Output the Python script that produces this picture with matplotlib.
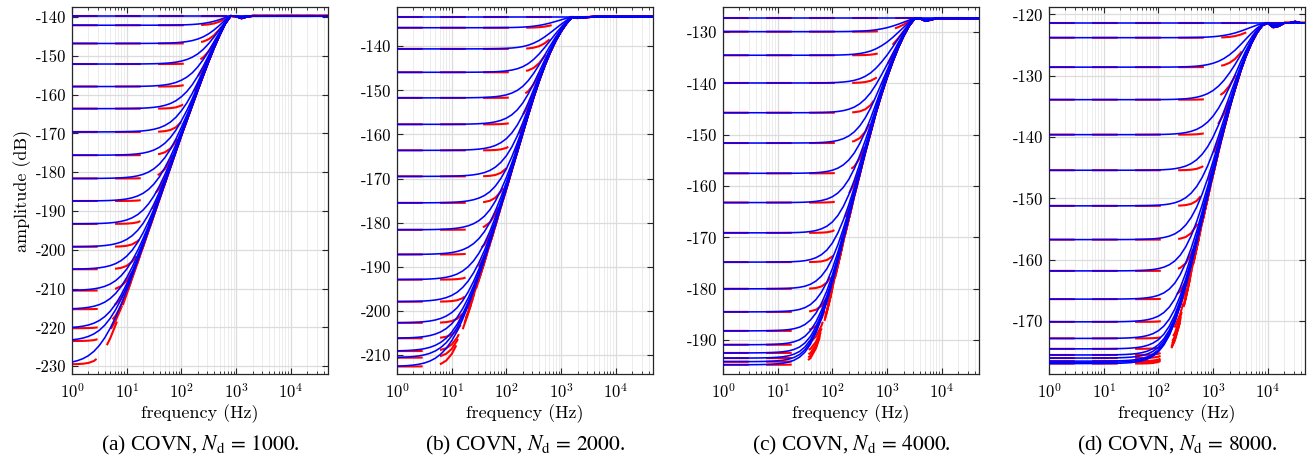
# amplitude spectra for the four COVN cases
import matplotlib
matplotlib.use('Agg')
import matplotlib.pyplot as plt
from matplotlib.ticker import LogLocator, NullFormatter, LogFormatterMathtext
import numpy as np

plt.rcParams['font.family'] = 'cmr10'
plt.rcParams['mathtext.fontset'] = 'cm'
plt.rcParams['axes.unicode_minus'] = False
plt.rcParams['axes.formatter.use_mathtext'] = True
plt.rcParams['lines.scale_dashes'] = False

# log10 of the frequencies (Hz) where the curves were read
logf = [0.0, 0.1, 0.2, 0.3, 0.4, 0.5, 0.6, 0.7, 0.8, 0.9,
        1.0, 1.1, 1.2, 1.3, 1.4, 1.5, 1.6, 1.7, 1.8, 1.9,
        2.0, 2.1, 2.2, 2.3, 2.4, 2.5, 2.6, 2.7, 2.8, 2.9,
        3.0, 3.1, 3.2, 3.3, 3.4, 3.5, 3.6, 3.7, 3.8, 3.9,
        4.0, 4.1, 4.2, 4.3, 4.4, 4.5, 4.6, 4.68]

# (a) N_d = 1000
top_a = -139.7
floors_a = [-139.7, -142.1, -146.8, -152.1, -157.9, -163.6, -169.6, -175.6, -181.6,
            -187.4, -193.3, -199.2, -205.0, -210.5, -215.3, -220.2, -223.5, -229.5]
env_a = [-252.5, -248.4, -244.3, -240.2, -236.1, -232.0, -227.9, -223.8, -219.7, -215.6,
         -211.5, -207.4, -203.3, -199.2, -195.1, -191.0, -186.9, -182.8, -178.7, -174.6,
         -170.5, -166.6, -162.7, -158.8, -155.0, -151.3, -147.8, -144.6, -141.7, -139.7,
         -139.8, -140.3, -139.9, -139.7, -139.7, -139.7, -139.7, -139.7, -139.7, -139.7,
         -139.7, -139.7, -139.7, -139.7, -139.7, -139.7, -139.7, -139.7]

# (b) N_d = 2000
top_b = -133.3
floors_b = [-133.3, -135.8, -140.6, -145.9, -151.7, -157.7, -163.6, -169.5, -175.5,
            -181.6, -187.2, -192.9, -197.9, -202.7, -206.2, -209.1, -210.6, -212.6]
env_b = [-253.0, -249.0, -245.0, -241.0, -237.0, -233.0, -229.0, -225.0, -221.0, -217.0,
         -213.0, -209.0, -204.9, -200.9, -196.9, -192.9, -188.9, -184.8, -180.6, -176.4,
         -172.3, -168.1, -163.9, -159.7, -155.5, -151.5, -147.8, -144.4, -141.4, -138.8,
         -136.6, -134.8, -133.4, -133.6, -133.5, -133.4, -133.3, -133.3, -133.3, -133.3,
         -133.3, -133.3, -133.3, -133.3, -133.3, -133.3, -133.3, -133.3]

# (c) N_d = 4000
top_c = -127.3
floors_c = [-127.3, -129.9, -134.5, -139.9, -145.7, -151.6, -157.5, -163.2, -169.1,
            -174.8, -180.0, -184.5, -188.2, -190.9, -192.5, -193.5, -194.2, -194.8]
env_c = [-274.2, -269.6, -265.0, -260.4, -255.8, -251.2, -246.6, -242.0, -237.4, -232.8,
         -228.2, -223.6, -219.0, -214.2, -209.4, -204.4, -199.4, -194.4, -189.6, -184.9,
         -180.2, -175.5, -170.9, -166.4, -162.0, -157.7, -153.5, -149.5, -145.6, -142.0,
         -138.8, -135.8, -133.1, -130.8, -128.8, -127.4, -127.3, -127.8, -127.6, -127.3,
         -127.3, -127.3, -127.3, -127.3, -127.3, -127.3, -127.3, -127.3]

# (d) N_d = 8000
top_d = -121.4
floors_d = [-121.4, -123.8, -128.6, -133.9, -139.6, -145.4, -151.2, -156.7, -161.8,
            -166.4, -170.1, -172.8, -174.5, -175.5, -176.0, -176.5, -176.7, -176.9]
env_d = [-279.0, -274.5, -270.0, -265.5, -261.0, -256.5, -252.0, -247.5, -243.0, -238.5,
         -234.0, -229.5, -225.0, -220.5, -216.0, -211.5, -207.0, -202.5, -198.0, -193.5,
         -189.0, -184.5, -180.0, -175.5, -171.0, -166.6, -162.3, -158.1, -154.0, -150.0,
         -146.1, -142.3, -138.7, -135.3, -132.2, -129.3, -126.8, -124.7, -123.0, -121.8,
         -121.4, -122.1, -121.9, -121.4, -121.4, -121.2, -121.4, -121.4]

labels = ['(a)', '(b)', '(c)', '(d)']
n_d = [1000, 2000, 4000, 8000]
tops = [top_a, top_b, top_c, top_d]
floors = [floors_a, floors_b, floors_c, floors_d]
envs = [env_a, env_b, env_c, env_d]
yticks = [list(range(-230, -139, 10)), list(range(-210, -139, 10)),
          list(range(-190, -129, 10)), list(range(-170, -119, 10))]
ylims = [(-232.0, -137.4), (-214.3, -131.1), (-196.6, -125.1), (-178.6, -118.8)]


def combine(top, floor, env, p):
    # floor and envelope added in amplitude (p=1, measured) or power (p=2, model)
    a = 10 ** ((floor - top) / 20.0)
    e = 10 ** ((np.array(env) - top) / 20.0)
    return top + 20.0 / p * np.log10(a ** p + (1 - a ** p) * e ** p)


W, H = 1316, 463
fig = plt.figure(figsize=(W / 100, H / 100), dpi=100)
lefts = [72, 397, 723, 1049]
freq = 10 ** np.array(logf)
edge = (0.15, 0.15, 0.15)

for i in range(4):
    ax = fig.add_axes([lefts[i] / W, 89 / H, 256 / W, 367 / H])
    for fl in floors[i]:
        ax.plot(freq, combine(tops[i], fl, envs[i], 2), color='red', lw=1.5,
                dashes=(18.5, 12.5), zorder=2)
    for fl in floors[i]:
        ax.plot(freq, combine(tops[i], fl, envs[i], 1), color='blue', lw=1.15, zorder=3)

    ax.set_xscale('log')
    ax.set_xlim(1, 4.8e4)
    ax.set_ylim(ylims[i])
    ax.set_yticks(yticks[i])
    ax.set_yticklabels([str(v) for v in yticks[i]])
    ax.xaxis.set_major_locator(LogLocator(base=10, numticks=10))
    ax.xaxis.set_major_formatter(LogFormatterMathtext())
    ax.xaxis.set_minor_locator(LogLocator(base=10, subs=np.arange(2, 10), numticks=20))
    ax.xaxis.set_minor_formatter(NullFormatter())

    ax.set_axisbelow(True)
    ax.grid(True, which='major', color='#dcdcdc', lw=0.9)
    ax.grid(True, which='minor', axis='x', color='#ececec', lw=0.7)
    for s in ax.spines.values():
        s.set_color(edge)
        s.set_linewidth(0.9)
    ax.tick_params(which='both', direction='in', top=True, right=True, color=edge)
    ax.tick_params(which='major', length=4.5, width=0.8, labelsize=12)
    ax.tick_params(which='minor', length=2.4, width=0.6)
    ax.tick_params(axis='x', pad=6)
    ax.tick_params(axis='y', pad=4)

    ax.set_xlabel('frequency (Hz)', fontsize=13, labelpad=2)
    if i == 0:
        ax.set_ylabel('amplitude (dB)', fontsize=13, labelpad=3)

    cx = (lefts[i] + 128) / W
    fig.text(cx, 18 / H, labels[i] + r' COVN, $N_{\mathrm{d}}\,=\,' + str(n_d[i]) + '$.',
             ha='center', va='center', fontsize=15.5, family='Liberation Serif',
             math_fontfamily='stix')

fig.savefig('out.png', dpi=100)
